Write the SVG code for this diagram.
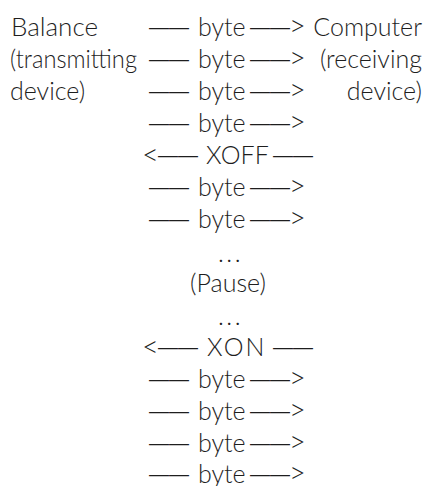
<svg xmlns="http://www.w3.org/2000/svg" width="426" height="486" viewBox="0 0 426 486">
<style>
  text { font-family: Lato, "Liberation Sans", sans-serif; font-weight: 300; font-size: 25px; fill: #1e1e1e; }
  .d { font-family: "Liberation Sans", sans-serif; font-size: 20px; font-weight: 400; }
  .a { font-size: 29px; }
  .m { text-anchor: middle; }
  .e { text-anchor: end; }
  .dots { letter-spacing: 2.5px; }
</style>
<rect width="426" height="486" fill="#ffffff"/>
<g id="sender">
  <text x="11" y="36" textLength="87" lengthAdjust="spacingAndGlyphs">Balance</text>
  <text x="10" y="68" textLength="127" lengthAdjust="spacingAndGlyphs">(transmitting</text>
  <text x="10" y="100">device)</text>
</g>
<g id="receiver">
  <text class="e" x="422" y="36">Computer</text>
  <text class="e" x="422" y="68">(receiving</text>
  <text class="e" x="422" y="100">device)</text>
</g>
<g id="connectors">
  <g id="byte1"><text><tspan class="d" x="149" y="34">——</tspan><tspan x="198" y="36">byte</tspan><tspan class="d" x="250" y="34">——</tspan><tspan class="a" x="289" y="36">&gt;</tspan></text></g>
  <g id="byte2"><text><tspan class="d" x="149" y="66">——</tspan><tspan x="198" y="68">byte</tspan><tspan class="d" x="250" y="66">——</tspan><tspan class="a" x="289" y="68">&gt;</tspan></text></g>
  <g id="byte3"><text><tspan class="d" x="149" y="98">——</tspan><tspan x="198" y="100">byte</tspan><tspan class="d" x="250" y="98">——</tspan><tspan class="a" x="289" y="100">&gt;</tspan></text></g>
  <g id="byte4"><text><tspan class="d" x="149" y="130">——</tspan><tspan x="198" y="132">byte</tspan><tspan class="d" x="250" y="130">——</tspan><tspan class="a" x="289" y="132">&gt;</tspan></text></g>
  <g id="xoff"><text><tspan class="a" x="142" y="165">&lt;</tspan><tspan class="d" x="158" y="162">——</tspan><tspan x="206" y="164">XOFF</tspan><tspan class="d" x="273" y="162">——</tspan></text></g>
  <g id="byte5"><text><tspan class="d" x="149" y="194">——</tspan><tspan x="198" y="196">byte</tspan><tspan class="d" x="250" y="194">——</tspan><tspan class="a" x="289" y="196">&gt;</tspan></text></g>
  <g id="byte6"><text><tspan class="d" x="149" y="226">——</tspan><tspan x="198" y="228">byte</tspan><tspan class="d" x="250" y="226">——</tspan><tspan class="a" x="289" y="228">&gt;</tspan></text></g>
  <text class="dots" x="218" y="262">...</text>
  <text class="m" x="228" y="292">(Pause)</text>
  <text class="dots" x="218" y="325">...</text>
  <g id="xon"><text><tspan class="a" x="142" y="357">&lt;</tspan><tspan class="d" x="158" y="354">——</tspan><tspan x="207" y="356" letter-spacing="2">XON</tspan><tspan class="d" x="273" y="354">——</tspan></text></g>
  <g id="byte7"><text><tspan class="d" x="149" y="386">——</tspan><tspan x="198" y="388">byte</tspan><tspan class="d" x="250" y="386">——</tspan><tspan class="a" x="289" y="388">&gt;</tspan></text></g>
  <g id="byte8"><text><tspan class="d" x="149" y="418">——</tspan><tspan x="198" y="420">byte</tspan><tspan class="d" x="250" y="418">——</tspan><tspan class="a" x="289" y="420">&gt;</tspan></text></g>
  <g id="byte9"><text><tspan class="d" x="149" y="450">——</tspan><tspan x="198" y="452">byte</tspan><tspan class="d" x="250" y="450">——</tspan><tspan class="a" x="289" y="452">&gt;</tspan></text></g>
  <g id="byte10"><text><tspan class="d" x="149" y="481">——</tspan><tspan x="198" y="483">byte</tspan><tspan class="d" x="250" y="481">——</tspan><tspan class="a" x="289" y="483">&gt;</tspan></text></g>
</g>
</svg>
